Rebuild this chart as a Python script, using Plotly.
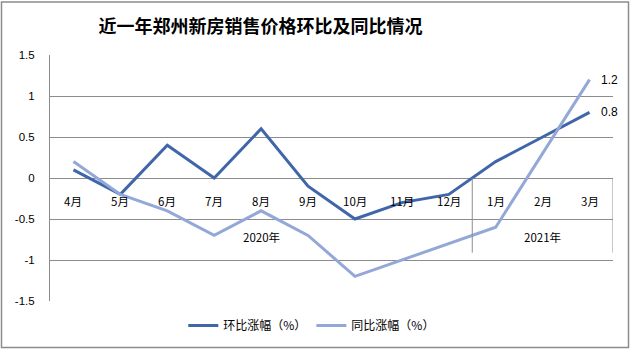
import plotly.graph_objects as go

months = ["4月", "5月", "6月", "7月", "8月", "9月", "10月", "11月", "12月", "1月", "2月", "3月"]
years = ["2020年", "2021年"]
year_spans = [(0, 8), (9, 11)]
mom = [0.1, -0.2, 0.4, 0.0, 0.6, -0.1, -0.5, -0.3, -0.2, 0.2, 0.5, 0.8]
yoy = [0.2, -0.2, -0.4, -0.7, -0.4, -0.7, -1.2, -1.0, -0.8, -0.6, 0.3, 1.2]
series_names = ["环比涨幅（%）", "同比涨幅（%）"]
yticks = [1.5, 1, 0.5, 0, -0.5, -1, -1.5]

dark = "#4066AA"
light = "#94A8D8"
grid = "#8C8C8C"
cjk = "Noto Sans CJK SC"
num_font = "Liberation Sans"

fig = go.Figure()
fig.add_trace(go.Scatter(x=months, y=mom, name=series_names[0], mode="lines",
                         line=dict(color=dark, width=3)))
fig.add_trace(go.Scatter(x=months, y=yoy, name=series_names[1], mode="lines",
                         line=dict(color=light, width=3)))

annotations = []
for vals in (mom, yoy):
    annotations.append(dict(x=months[-1], y=vals[-1], xref="x", yref="y", text=f"{vals[-1]:g}",
                            showarrow=False, xshift=20, xanchor="center",
                            font=dict(family=num_font, size=12, color="#000")))
for m in months:
    annotations.append(dict(x=m, y=0, xref="x", yref="y", text=m, showarrow=False,
                            yshift=-23, font=dict(family=cjk, size=11.5, color="#000")))
for yr, (a, b) in zip(years, year_spans):
    annotations.append(dict(x=(a + b) / 2, y=0, xref="x", yref="y", text=yr, showarrow=False,
                            yshift=-59, font=dict(family=cjk, size=11.5, color="#000")))

shapes = []
for a, b in year_spans[:-1]:
    shapes.append(dict(type="line", xref="x", yref="y", x0=b + 0.5, x1=b + 0.5, y0=0, y1=-0.91,
                       line=dict(color=grid, width=1)))
shapes.append(dict(type="line", xref="x", yref="y", x0=len(months) - 0.5, x1=len(months) - 0.5,
                   y0=0, y1=-0.91, line=dict(color=grid, width=1)))
# outer chart frame
shapes.append(dict(type="rect", xref="paper", yref="paper",
                   x0=(1.5 - 50) / 563, x1=(628.5 - 50) / 563,
                   y0=(303 - 350) / 248, y1=(303 - 1.5) / 248,
                   line=dict(color="#8C8C8C", width=1.5), layer="below"))

fig.update_layout(
    width=630, height=352,
    margin=dict(l=50, r=17, t=55, b=49),
    paper_bgcolor="white", plot_bgcolor="white",
    title=dict(text="<b>近一年郑州新房销售价格环比及同比情况</b>", x=260.5 / 630, xanchor="center",
               y=1 - 27 / 352, yanchor="middle", font=dict(family=cjk, size=18, color="#000")),
    xaxis=dict(type="category", range=[-0.5, len(months) - 0.5], showticklabels=False,
               showgrid=False, zeroline=False, showline=False, ticks=""),
    yaxis=dict(range=[-1.5, 1.5], tickvals=yticks, ticktext=[f"{v:g}" for v in yticks],
               showgrid=True, gridcolor=grid, gridwidth=1, zeroline=False,
               showline=True, linecolor=grid, linewidth=1, ticks="", ticklabelstandoff=12,
               tickfont=dict(family=num_font, size=11.5, color="#000")),
    legend=dict(orientation="h", x=0.465, xanchor="center", y=-0.1, yanchor="middle",
                font=dict(family=cjk, size=12, color="#000"), itemwidth=30,
                bgcolor="rgba(0,0,0,0)"),
    annotations=annotations,
    shapes=shapes,
    showlegend=True,
)

fig.write_html("out.html")
